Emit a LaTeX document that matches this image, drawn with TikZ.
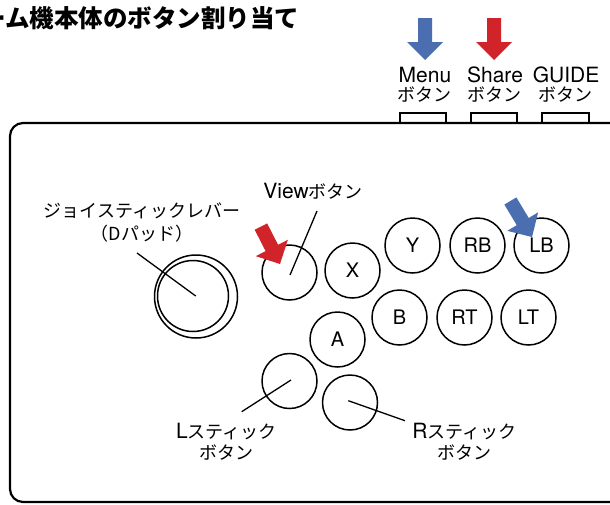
\documentclass[tikz,border=0pt]{standalone}
\usepackage{fontspec}
\setmainfont{TeX Gyre Heros}
\newfontfamily\jp{Noto Sans CJK JP}
\definecolor{blueA}{HTML}{4A6EB0}
\definecolor{redA}{HTML}{D1232A}
\tikzset{
  btn/.style={circle, draw, line width=1.5pt, minimum size=55pt, inner sep=0pt,
              font=\fontsize{20}{20}\selectfont},
  ring/.style={circle, draw, line width=1.5pt, inner sep=0pt},
  lead/.style={line width=1.3pt},
  lbl/.style={inner sep=0pt, font=\fontsize{21}{22}\selectfont},
  jlbl/.style={inner sep=0pt, font=\jp\fontsize{18}{20}\selectfont},
  tab/.style={draw, line width=1.6pt, fill=white},
  fatarrow/.pic={\fill (-7,-42) -- (7,-42) -- (7,-18) -- (18,-18) -- (0,0) -- (-18,-18) -- (-7,-18) -- cycle;}
}
\begin{document}
\begin{tikzpicture}[x=1pt,y=-1pt]
\useasboundingbox (0,0) rectangle (610,504);
\clip (0,0) rectangle (610,504);
% title
\node[anchor=base west, inner sep=0pt, font=\jp\bfseries\fontsize{24.5}{26}\selectfont] (title) at (-43,27) {ゲーム機本体のボタン割り当て};
% top tabs
\draw[tab] (400,113) rectangle (446,123);
\draw[tab] (471,113) rectangle (517,123);
\draw[tab] (542,113) rectangle (589,123);
% main body
\draw[line width=2.2pt, rounded corners=13pt] (10,123) rectangle (650,502);
% top labels
\node[lbl] (menu) at (425,74.5) {Menu};
\node[jlbl] (menub) at (424.5,95) {ボタン};
\node[lbl] (share) at (495,74.5) {Share};
\node[jlbl] (shareb) at (494.5,95) {ボタン};
\node[lbl] (guide) at (566,74.5) {GUIDE};
\node[jlbl] (guideb) at (565.5,95) {ボタン};
% arrows
\pic[color=blueA] (amenu) at (425,60) {fatarrow};
\pic[color=redA] (ashare) at (494,60) {fatarrow};
% joystick
\node[ring, minimum size=83pt] (stickO) at (196,296.5) {};
\node[ring, minimum size=71pt] (stickI) at (193,296) {};
\coordinate (stickC) at (195.7,296);
\node[jlbl] (joyl1) at (142,211) {ジョイスティックレバー};
\node[jlbl] (joyl2) at (142,234) {（Dパッド）};
\coordinate (joyT) at (137,253);
\draw[lead] (joyT) -- (stickC);
% buttons
\node[btn] (view) at (289.5,272.5) {};
\node[btn] (X) at (352.5,270.5) {X};
\node[btn] (Y) at (412.5,245.5) {Y};
\node[btn] (RB) at (477.5,245.5) {RB};
\node[btn] (LB) at (541.5,245.5) {LB};
\node[btn] (A) at (337.5,339.5) {A};
\node[btn] (B) at (399.5,317.5) {B};
\node[btn] (RT) at (464.5,317.5) {RT};
\node[btn] (LT) at (528.5,317.5) {LT};
\node[btn] (Ls) at (289.5,381) {};
\node[btn] (Rs) at (350,402.5) {};
% view label
\node[inner sep=0pt, anchor=base] (viewl) at (313,198) {\fontsize{21}{22}\selectfont View{\jp\fontsize{18}{20}\selectfont ボタン}};
\coordinate (viewT) at (317,211);
\coordinate (viewC) at (290,275);
\draw[lead] (viewT) -- (viewC);
% stick labels
\node[inner sep=0pt, anchor=base] (Ll1) at (226.5,438) {\fontsize{21}{22}\selectfont L{\jp\fontsize{18}{20}\selectfont スティック}};
\node[jlbl] (Ll2) at (226.5,453) {ボタン};
\node[inner sep=0pt, anchor=base] (Rl1) at (464.5,438) {\fontsize{21}{22}\selectfont R{\jp\fontsize{18}{20}\selectfont スティック}};
\node[jlbl] (Rl2) at (464.5,453) {ボタン};
\coordinate (LsT) at (241.7,411.7);
\coordinate (LsC) at (291,380);
\draw[lead] (LsT) -- (LsC);
\coordinate (RsC) at (348.3,400.7);
\coordinate (RsT) at (405,420.7);
\draw[lead] (RsC) -- (RsT);
% diagonal arrows
\pic[color=redA, rotate=27] (aview) at (280,264) {fatarrow};
\pic[color=blueA, rotate=31] (alb) at (532,237) {fatarrow};
\end{tikzpicture}
\end{document}
